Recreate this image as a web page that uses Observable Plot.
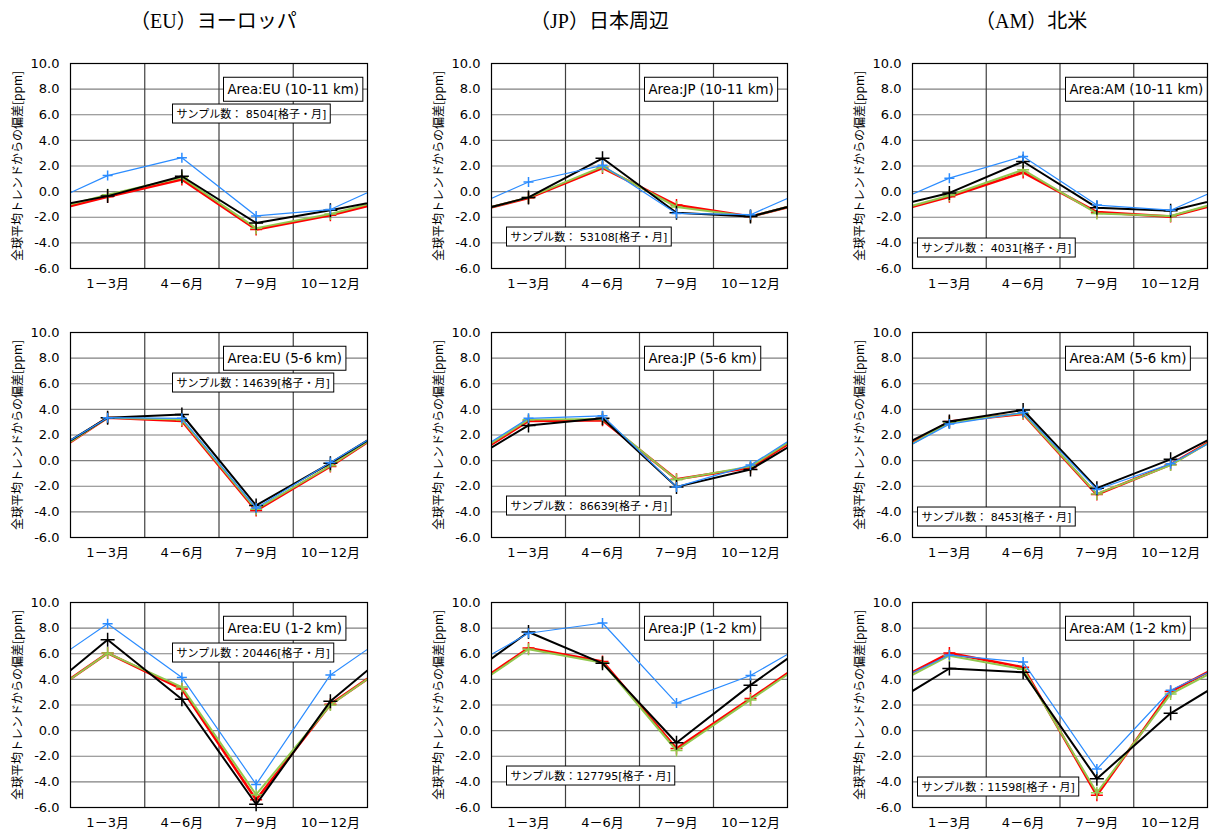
<!DOCTYPE html>
<html><head><meta charset="utf-8">
<script src="https://cdn.jsdelivr.net/npm/d3@7"></script>
<script src="https://cdn.jsdelivr.net/npm/@observablehq/plot@0.6"></script>
<style>
body{margin:0;background:#fff;width:1212px;height:832px;position:relative;overflow:hidden;}
.title{position:absolute;top:5px;font-family:"Liberation Serif","Noto Sans CJK JP",serif;font-size:20px;white-space:nowrap;color:#000;}
.panel{position:absolute;}
</style></head><body>
<script>
// ---- data ----
const quarters = ["1－3月", "4－6月", "7－9月", "10－12月"];
const regionCodes = ["EU", "JP", "AM"];
const regionTitles = ["（EU）ヨーロッパ", "（JP）日本周辺", "（AM）北米"];
const layers = ["10-11 km", "5-6 km", "1-2 km"];
const seriesNames = ["blue", "black", "red", "green"];
const yLabel = "全球平均トレンドからの偏差[ppm]";

// each panel: [blue, black, red, green] values for 1-3, 4-6, 7-9, 10-12月
const EU_10_11 = [[1.25, 2.65, -1.9, -1.4], [-0.35, 1.2, -2.45, -1.45], [-0.4, 0.95, -2.95, -1.85], [-0.25, 1.1, -2.85, -1.75]];
const JP_10_11 = [[0.75, 2.05, -1.7, -1.8], [-0.45, 2.6, -1.65, -1.95], [-0.5, 1.85, -1.05, -1.95], [-0.45, 1.95, -1.2, -1.95]];
const AM_10_11 = [[1.05, 2.75, -1.05, -1.45], [-0.1, 2.35, -1.25, -1.5], [-0.4, 1.5, -1.6, -1.95], [-0.3, 1.7, -1.7, -1.9]];
const EU_5_6 = [[3.35, 3.3, -3.7, -0.15], [3.35, 3.6, -3.5, -0.2], [3.35, 3.1, -3.9, -0.45], [3.35, 3.2, -3.8, -0.4]];
const JP_5_6 = [[3.3, 3.5, -2.05, -0.35], [2.75, 3.3, -2.05, -0.7], [3.1, 3.15, -1.45, -0.55], [3.2, 3.25, -1.5, -0.45]];
const AM_5_6 = [[2.85, 3.75, -2.25, -0.25], [3.05, 3.95, -2.15, 0.1], [3.05, 3.65, -2.65, -0.3], [3.0, 3.7, -2.6, -0.35]];
const EU_1_2 = [[8.35, 4.15, -4.2, 4.35], [7.1, 2.45, -5.75, 2.3], [6.05, 3.25, -5.4, 2.05], [6.05, 3.4, -5.0, 2.0]];
const JP_1_2 = [[7.6, 8.4, 2.15, 4.3], [7.7, 5.25, -0.95, 3.55], [6.45, 5.4, -1.4, 2.5], [6.35, 5.3, -1.55, 2.4]];
const AM_1_2 = [[5.9, 5.35, -3.0, 3.15], [4.85, 4.55, -3.75, 1.35], [6.05, 4.95, -5.05, 3.05], [5.85, 4.8, -4.85, 2.85]];

const sampleLabelsEU = ["サンプル数： 8504[格子・月]", "サンプル数：14639[格子・月]", "サンプル数：20446[格子・月]"];
const sampleLabelsJP = ["サンプル数： 53108[格子・月]", "サンプル数： 86639[格子・月]", "サンプル数：127795[格子・月]"];
const sampleLabelsAM = ["サンプル数： 4031[格子・月]", "サンプル数： 8453[格子・月]", "サンプル数：11598[格子・月]"];

// ---- layout & style ----
const panels = [[EU_10_11, JP_10_11, AM_10_11], [EU_5_6, JP_5_6, AM_5_6], [EU_1_2, JP_1_2, AM_1_2]];
const sampleLabels = [sampleLabelsEU, sampleLabelsJP, sampleLabelsAM];
const colors = ["#2b8cff", "#000000", "#ff0000", "#92c84e"];
const widths = [1.2, 2, 2.6, 2];
const radii = [5, 7, 6, 6];
const drawOrder = [2, 3, 1, 0];
const colLeft = [0, 420, 840];
const colWidth = [404, 404, 372];
const mLeft = [70, 71, 72];
const plotRight = 367;
const plotTop = [63, 332, 602];
const plotH = 205;
const sampleOffset = [[102, 41], [15, 164], [5, 175]];
const titleLeft = [130, 530, 975];
const FONT = '"DejaVu Sans","Noto Sans CJK JP",sans-serif';
const CJK = '"Noto Sans CJK JP","DejaVu Sans",sans-serif';

const plus = {draw(ctx, size) { const r = Math.sqrt(size / Math.PI); ctx.moveTo(-r, 0); ctx.lineTo(r, 0); ctx.moveTo(0, -r); ctx.lineTo(0, r); }};

regionTitles.forEach((t, i) => {
  const d = document.createElement("div");
  d.className = "title"; d.textContent = t; d.style.left = titleLeft[i] + "px";
  document.body.appendChild(d);
});

function boxTexts(svg) {
  svg.querySelectorAll("text").forEach(t => {
    const s = t.textContent;
    if (!(s.startsWith("Area:") || s.startsWith("サンプル"))) return;
    const b = t.getBBox();
    const px = 4, h = s.startsWith("Area:") ? 24 : 19;
    const cy = b.y + b.height / 2;
    const r = document.createElementNS("http://www.w3.org/2000/svg", "rect");
    r.setAttribute("x", b.x - px); r.setAttribute("y", cy - h / 2);
    r.setAttribute("width", b.width + 2 * px); r.setAttribute("height", h);
    r.setAttribute("fill", "white"); r.setAttribute("stroke", "black"); r.setAttribute("stroke-width", 1);
    if (t.getAttribute("transform")) r.setAttribute("transform", t.getAttribute("transform"));
    t.parentNode.insertBefore(r, t);
  });
}

for (let row = 0; row < 3; row++) {
  for (let col = 0; col < 3; col++) {
    const data = panels[row][col];
    const ml = mLeft[col], w = colWidth[col];
    const mt = 10, mb = 30;
    const marks = [
      Plot.ruleY(d3.range(-4, 9, 2), {stroke: "#808080", strokeWidth: 1.2}),
      Plot.ruleX(quarters.slice(1).map((_, i) => i + 1.5), {stroke: "#404040", strokeWidth: 1.2})
    ];
    drawOrder.forEach(si => {
      const v = data[si];
      const pts = v.map((y, i) => ({x: i + 1, y}));
      const cyc = [{x: 0, y: v[v.length - 1]}, ...pts, {x: v.length + 1, y: v[0]}];
      marks.push(Plot.line(cyc, {x: "x", y: "y", stroke: colors[si], strokeWidth: widths[si], clip: true}));
      marks.push(Plot.dot(pts, {x: "x", y: "y", symbol: plus, r: radii[si], stroke: colors[si], strokeWidth: 1.5, fill: "none"}));
    });
    marks.push(
      Plot.frame({stroke: "black", strokeWidth: 1.2}),
      Plot.axisY({ticks: d3.range(-6, 10.01, 2), tickFormat: d => d.toFixed(1), tickSize: 0, tickPadding: 11, label: null, fontSize: 13}),
      Plot.axisX({ticks: [1, 2, 3, 4], tickFormat: d => quarters[d - 1], tickSize: 0, tickPadding: 10, label: null, fontSize: 13}),
      Plot.text([yLabel], {text: d => d, frameAnchor: "left", textAnchor: "middle", rotate: -90, dx: -52, fontSize: 12, fontFamily: CJK}),
      Plot.text([`Area:${regionCodes[col]} (${layers[row]})`], {text: d => d, frameAnchor: "top-left", dx: 157, dy: 26, textAnchor: "start", lineAnchor: "middle", fontSize: 13.3, fontFamily: FONT}),
      Plot.text([sampleLabels[col][row]], {text: d => d, frameAnchor: "top-left", dx: sampleOffset[col][0] + 4, dy: sampleOffset[col][1] + 9.5, textAnchor: "start", lineAnchor: "middle", fontSize: 11, fontFamily: FONT})
    );
    const svg = Plot.plot({
      width: w, height: plotH + mt + mb,
      marginLeft: ml, marginRight: w - plotRight, marginTop: mt, marginBottom: mb,
      x: {domain: [0.5, 4.5]},
      y: {domain: [-6, 10]},
      style: {fontFamily: FONT, fontSize: "13px", color: "black", background: "white", overflow: "visible"},
      marks
    });
    const div = document.createElement("div");
    div.className = "panel";
    div.style.left = colLeft[col] + "px";
    div.style.top = (plotTop[row] - mt) + "px";
    div.appendChild(svg);
    document.body.appendChild(div);
    boxTexts(svg);
  }
}
</script>
</body></html>
